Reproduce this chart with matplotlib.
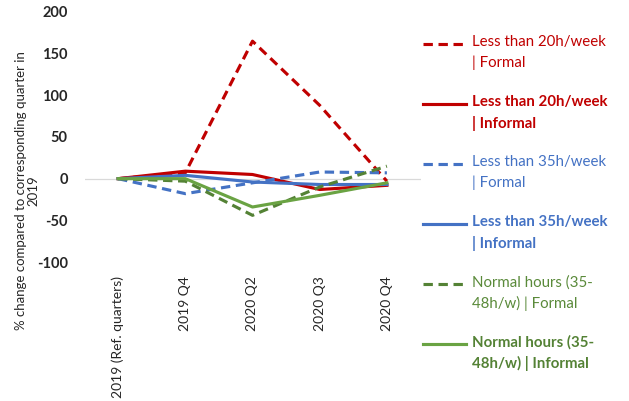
import matplotlib
matplotlib.use("Agg")
import matplotlib.pyplot as plt
from matplotlib.lines import Line2D

plt.rcParams['font.family'] = ['Lato', 'DejaVu Sans']

categories = ["2019 (Ref. quarters)", "2019 Q4", "2020 Q2", "2020 Q3", "2020 Q4"]
lt20_formal = [0, 7, 165, 88, -3]
lt20_informal = [0, 9, 5, -13, -8]
lt35_formal = [0, -18, -5, 8, 7]
lt35_informal = [0, 4, -4, -7, -7]
normal_formal = [0, -3, -44, -10, 15]
normal_informal = [0, 0, -34, -20, -5]

labels = ["Less than 20h/week\n| Formal", "Less than 20h/week\n| Informal",
          "Less than 35h/week\n| Formal", "Less than 35h/week\n| Informal",
          "Normal hours (35-\n48h/w) | Formal", "Normal hours (35-\n48h/w) | Informal"]
yticks = [-100, -50, 0, 50, 100, 150, 200]

series = [lt20_formal, lt20_informal, lt35_formal, lt35_informal, normal_formal, normal_informal]
colors = ["#C00000", "#C00000", "#4472C4", "#4472C4", "#548235", "#6AA343"]
text_colors = ["#C00000", "#C00000", "#4472C4", "#4472C4", "#5A8A3A", "#548235"]
dashed = [True, False, True, False, True, False]

W, H = 629, 401
fig = plt.figure(figsize=(W/100, H/100), dpi=100)
ax = fig.add_axes([84.5/W, (H-262)/H, 336/W, 250/H])

x = list(range(len(categories)))
ax.axhline(0, color="#D9D9D9", lw=0.9, zorder=1)
for s, c, d in zip(series, colors, dashed):
    ls = (0, (3, 1.8)) if d else "-"
    ax.plot(x, s, color=c, lw=2.25, linestyle=ls, zorder=2)

ax.set_xlim(-0.5, 4.5)
ax.set_ylim(-100, 200)
ax.set_yticks(yticks)
ax.set_yticklabels([str(v) for v in yticks], fontsize=10.5, fontweight="bold", color="#262626")
ax.set_xticks(x)
ax.set_xticklabels(categories, rotation=90, fontsize=10, color="#262626", va="top")
ax.tick_params(axis="y", length=0, pad=12)
ax.tick_params(axis="x", length=0, pad=10)
for sp in ax.spines.values():
    sp.set_visible(False)

fig.text(27/W, 1 - 191/H, "% change compared to corresponding quarter in\n2019",
         rotation=90, ha="center", va="center", multialignment="center",
         fontsize=9.5, color="#262626", linespacing=1.05)

# legend
for i, (lab, c, tc, d) in enumerate(zip(labels, colors, text_colors, dashed)):
    ytop = 44 + i * 60
    ls = (0, (3, 1.8)) if d else "-"
    fig.add_artist(Line2D([423/W, 466/W], [1 - ytop/H, 1 - ytop/H], color=c, lw=2.25,
                          linestyle=ls, transform=fig.transFigure))
    fig.text(472/W, 1 - (ytop - 9)/H, lab, fontsize=10.8, color=tc, va="top", ha="left",
             fontweight=("normal" if d else "bold"), linespacing=1.55)

fig.savefig("out.png", dpi=100)
